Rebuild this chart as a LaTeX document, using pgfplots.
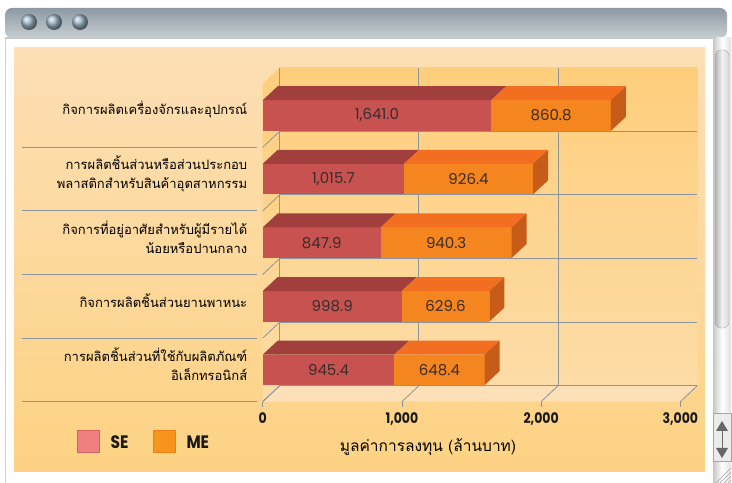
\documentclass[border=0pt]{standalone}
\usepackage{fontspec}
\usepackage{pgfplots}
\pgfplotsset{compat=1.18}
\usepackage{pgfplotstable}
\newfontfamily\thai[Script=Thai]{Loma}
\newfontfamily\num{Poppins}
\newfontfamily\numc[FakeStretch=0.86]{Poppins}

\definecolor{panelTop}{HTML}{FDDFB5}
\definecolor{panelBot}{HTML}{FDD283}
\definecolor{wallTop}{HTML}{FECE7C}
\definecolor{wallBot}{HTML}{FDDCA6}
\definecolor{floorCol}{HTML}{FDE0B8}
\definecolor{gridCol}{HTML}{8C949E}
\definecolor{seFront}{HTML}{C75250}
\definecolor{seTop}{HTML}{A03F3C}
\definecolor{meFront}{HTML}{F4851F}
\definecolor{meTop}{HTML}{F26F21}
\definecolor{meSide}{HTML}{C75C18}
\definecolor{labText}{HTML}{3B2C2C}
\definecolor{seLeg}{HTML}{F08080}
\definecolor{seLegB}{HTML}{D9605E}
\definecolor{meLeg}{HTML}{F7941E}
\definecolor{meLegB}{HTML}{EE7F16}
\definecolor{barTop}{HTML}{8D9AA3}
\definecolor{barBot}{HTML}{C7CED2}
\definecolor{btn}{HTML}{9FB6C9}

% rows from bottom (0) to top (4)
\pgfplotstableread{
row se     me
0   945.4  648.4
1   998.9  629.6
2   847.9  940.3
3   1015.7 926.4
4   1641.0 860.8
}\invest

\begin{document}
\begin{tikzpicture}[x=1bp,y=1bp]
\useasboundingbox (0,0) rectangle (732,483);
\fill[white] (0,0) rectangle (732,483);
% window frame
\draw[black!18, line width=1bp] (5.5,0) -- (5.5,446);
\shade[top color=barTop, bottom color=barBot, rounded corners=7bp]
  (5,445) -- (5,475) -- (727,475) -- (727,445) -- cycle;
\fill[black!22] (5,444) rectangle (727,446);
\foreach \cx in {29,54,80}
  \shade[ball color=btn] (\cx,461) circle (8bp);
% scrollbar
\shade[left color=black!22, right color=black!12, middle color=white]
  (713,0) rectangle (731,445);
\shade[left color=black!30, right color=black!15, middle color=black!5,
       rounded corners=6bp, draw=black!35] (715,155) rectangle (729,433);
\draw[black!35, fill=black!8] (713,22) rectangle (731,70);
\fill[black!60] (722,62) -- (716,52) -- (728,52) -- cycle;
\fill[black!60] (722,25) -- (716,35) -- (728,35) -- cycle;
\draw[black!60, line width=1bp] (722,52) -- (722,35);
\foreach \k in {0,4,8,12}
  \draw[black!35] (716+\k,0) -- (731,15-\k);
% panel
\shade[top color=panelTop, bottom color=panelBot] (14,11) rectangle (705,435);

\begin{axis}[
    at={(262.7bp,81.3bp)}, anchor=south west,
    scale only axis, width=417.6bp, height=318bp,
    xmin=0, xmax=3000, ymin=0, ymax=5,
    clip=false,
    axis line style={draw=none},
    xtick={0,1000,2000,3000}, xtick pos=bottom,
    tick align=outside, major tick length=5bp,
    xtick style={gridCol, line width=0.8bp},
    ytick={0.59,1.59,2.59,3.59,4.59},
    yticklabels={{การผลิตชิ้นส่วนที่ใช้กับผลิตภัณฑ์\\อิเล็กทรอนิกส์},
                 {กิจการผลิตชิ้นส่วนยานพาหนะ},
                 {กิจการที่อยู่อาศัยสำหรับผู้มีรายได้\\น้อยหรือปานกลาง},
                 {การผลิตชิ้นส่วนหรือส่วนประกอบ\\พลาสติกสำหรับสินค้าอุตสาหกรรม},
                 {กิจการผลิตเครื่องจักรและอุปกรณ์}},
    ytick style={draw=none},
    yticklabel style={align=right, font={\fontsize{13bp}{19bp}\thai},
                      text=black, xshift=-7bp},
    /pgf/number format/assume math mode=true,
    /pgf/number format/1000 sep={,},
    xticklabel style={font={\fontsize{14.5bp}{16bp}\numc\bfseries},
                      text=black!90, yshift=-2bp},
]
% walls and floor
\shade[top color=wallTop, bottom color=wallBot]
  (axis cs:122,0.2516) rectangle (axis cs:3122,5.2516);
\shade[top color=wallTop, bottom color=wallBot]
  (axis cs:0,0) -- (axis cs:122,0.2516) -- (axis cs:122,5.2516)
  -- (axis cs:0,5) -- cycle;
\fill[floorCol] (axis cs:0,0) -- (axis cs:3000,0) -- (axis cs:3122,0.2516)
  -- (axis cs:122,0.2516) -- cycle;
\pgfplotsinvokeforeach{0,...,4}{
  \draw[gridCol, line width=0.8bp] (axis cs:122,#1.2516) -- (axis cs:3122,#1.2516);
  \draw[gridCol, line width=0.8bp] (axis cs:0,#1) -- (axis cs:122,#1.2516);
  \draw[gridCol, line width=0.9bp] (axis cs:-1729,#1) -- (axis cs:-41,#1);
}
\pgfplotsinvokeforeach{0,1000,2000}{
  \draw[gridCol, line width=0.8bp] (axis cs:#1+122,0.2516) -- (axis cs:#1+122,5.2516);
}
\pgfplotsinvokeforeach{0,1000,2000,3000}{
  \draw[gridCol, line width=0.8bp] (axis cs:#1,0) -- (axis cs:#1+122,0.2516);
}
% 3D stacked bars
\pgfplotsforeachungrouped \r in {0,...,4}{%
  \pgfplotstablegetelem{\r}{se}\of\invest \let\vSE\pgfplotsretval
  \pgfplotstablegetelem{\r}{me}\of\invest \let\vME\pgfplotsretval
  \pgfmathsetmacro\bLo{\r+0.26}
  \pgfmathsetmacro\bHi{\r+0.74}
  \pgfmathsetmacro\bLoB{\bLo+0.22}
  \pgfmathsetmacro\bHiB{\bHi+0.22}
  \pgfmathsetmacro\bTot{\vSE+\vME}
  \pgfmathsetmacro\bSEb{\vSE+108}
  \pgfmathsetmacro\bTotb{\bTot+108}
  \pgfmathsetmacro\bMid{\r+0.5}
  \pgfmathsetmacro\cSE{\vSE/2}
  \pgfmathsetmacro\cME{\vSE+\vME/2}
  \edef\doBar{%
    \noexpand\addplot[fill=seFront, draw=none] coordinates
      {(0,\bLo) (\vSE,\bLo) (\vSE,\bHi) (0,\bHi)} --cycle;
    \noexpand\addplot[fill=seTop, draw=none] coordinates
      {(0,\bHi) (\vSE,\bHi) (\bSEb,\bHiB) (108,\bHiB)} --cycle;
    \noexpand\addplot[fill=meFront, draw=none] coordinates
      {(\vSE,\bLo) (\bTot,\bLo) (\bTot,\bHi) (\vSE,\bHi)} --cycle;
    \noexpand\addplot[fill=meTop, draw=none] coordinates
      {(\vSE,\bHi) (\bTot,\bHi) (\bTotb,\bHiB) (\bSEb,\bHiB)} --cycle;
    \noexpand\addplot[fill=meSide, draw=none] coordinates
      {(\bTot,\bLo) (\bTotb,\bLoB) (\bTotb,\bHiB) (\bTot,\bHi)} --cycle;
    \noexpand\node[font=\noexpand\fontsize{15bp}{17bp}\noexpand\num, text=labText]
      at (axis cs:\cSE,\bMid)
      {\noexpand\pgfmathprintnumber[fixed,fixed zerofill,precision=1,1000 sep={,}]{\vSE}};
    \noexpand\node[font=\noexpand\fontsize{15bp}{17bp}\noexpand\num, text=labText]
      at (axis cs:\cME,\bMid)
      {\noexpand\pgfmathprintnumber[fixed,fixed zerofill,precision=1,1000 sep={,}]{\vME}};
  }\doBar
}
\end{axis}

% axis title
\node[font={\fontsize{15.5bp}{17bp}\thai}, text=black] at (428,36)
  {มูลค่าการลงทุน (ล้านบาท)};
% legend
\draw[seLegB, fill=seLeg, line width=1.2bp] (77.5,30.5) rectangle (99.5,52.5);
\node[font={\fontsize{18bp}{20bp}\numc\bfseries}, text=black!90, anchor=west]
  at (107,40.5) {SE};
\draw[meLegB, fill=meLeg, line width=1.2bp] (153.5,30.5) rectangle (175.5,52.5);
\node[font={\fontsize{18bp}{20bp}\numc\bfseries}, text=black!90, anchor=west]
  at (183,40.5) {ME};
\end{tikzpicture}
\end{document}
